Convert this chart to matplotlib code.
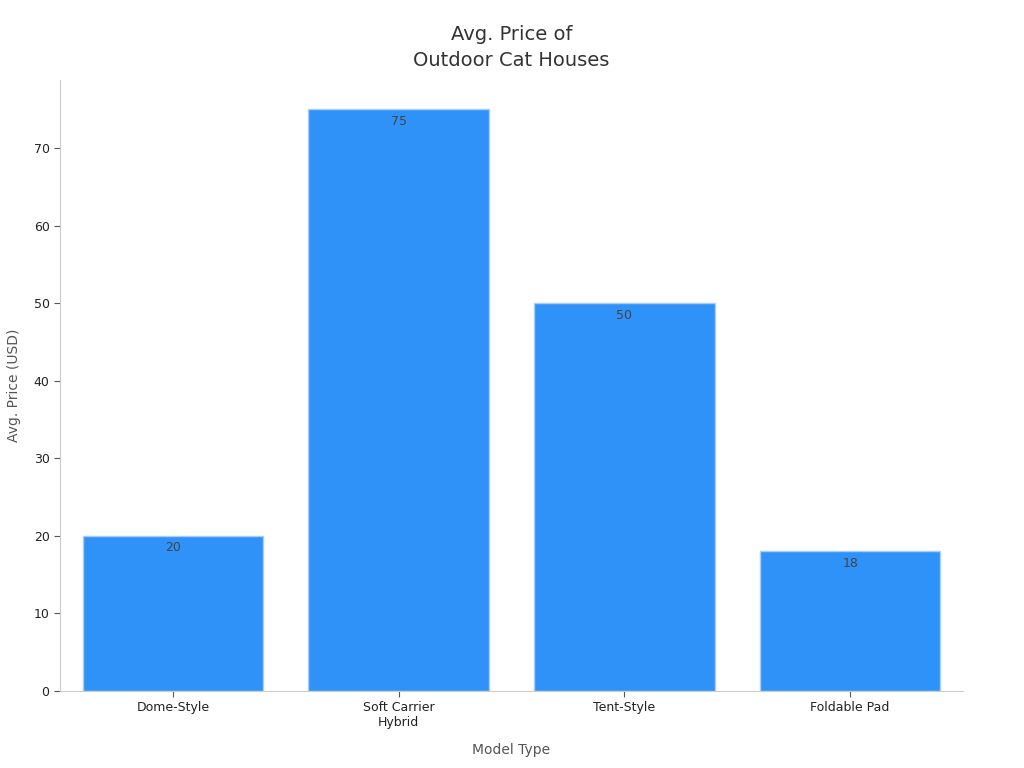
import matplotlib
matplotlib.use("Agg")
import matplotlib.pyplot as plt

# data
models = ["Dome-Style", "Soft Carrier\nHybrid", "Tent-Style", "Foldable Pad"]
prices = [20, 75, 50, 18]

fig = plt.figure(figsize=(10.24, 7.68), dpi=100)
ax = fig.add_axes([60 / 1024, 77 / 768, 903 / 1024, 611 / 768])

x = range(len(models))
bars = ax.bar(x, prices, width=0.8, color="#2f92f8", edgecolor="#a9cdf5", linewidth=1)

for b, v in zip(bars, prices):
    ax.annotate(str(v), (b.get_x() + b.get_width() / 2, v), xytext=(0, -4),
                textcoords="offset points", ha="center", va="top",
                fontsize=9, color="#444444")

ax.set_xlim(-0.5, 3.5)
ax.set_ylim(0, 78.8)
ax.set_xticks(list(x))
ax.set_xticklabels(models, fontsize=9, color="#222222")
ax.set_yticks([0, 10, 20, 30, 40, 50, 60, 70])
ax.tick_params(axis="y", labelsize=9, colors="#222222", length=4, color="#555555")
ax.tick_params(axis="x", length=4, color="#555555")

for s in ["top", "right"]:
    ax.spines[s].set_visible(False)
for s in ["left", "bottom"]:
    ax.spines[s].set_color("#cccccc")

ax.set_xlabel("Model Type", fontsize=10, color="#555555", labelpad=10)
ax.set_ylabel("Avg. Price (USD)", fontsize=10, color="#555555", labelpad=9)
ax.set_title("Avg. Price of\nOutdoor Cat Houses", fontsize=14, color="#333333",
             pad=10, linespacing=1.5)

fig.savefig("out.png", dpi=100)
